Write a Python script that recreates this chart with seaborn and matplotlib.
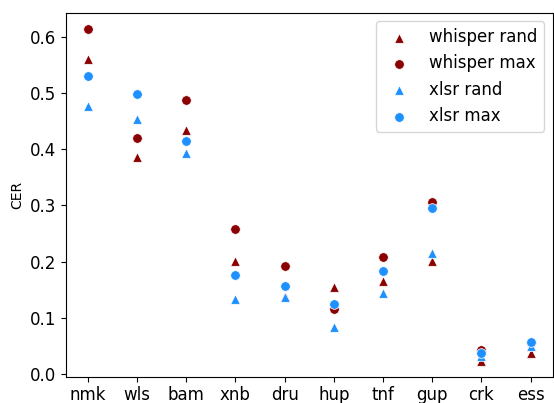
import matplotlib
matplotlib.use("Agg")
import matplotlib.pyplot as plt
import seaborn as sns
import pandas as pd

languages = ["nmk", "wls", "bam", "xnb", "dru", "hup", "tnf", "gup", "crk", "ess"]

whisper_rand = [0.561, 0.386, 0.434, 0.201, 0.139, 0.155, 0.165, 0.201, 0.024, 0.038]
whisper_max = [0.613, 0.420, 0.488, 0.259, 0.192, 0.116, 0.209, 0.306, 0.043, 0.055]
xlsr_rand = [0.477, 0.454, 0.393, 0.133, 0.137, 0.083, 0.144, 0.216, 0.033, 0.050]
xlsr_max = [0.531, 0.498, 0.414, 0.176, 0.157, 0.124, 0.183, 0.295, 0.038, 0.058]

series = [
    ("whisper rand", whisper_rand, "^", "darkred"),
    ("whisper max", whisper_max, "o", "darkred"),
    ("xlsr rand", xlsr_rand, "^", "dodgerblue"),
    ("xlsr max", xlsr_max, "o", "dodgerblue"),
]

fig = plt.figure(figsize=(5.54, 4.03), dpi=100)
ax = fig.add_axes([0.1186, 0.064, 0.879, 0.904])

for name, vals, marker, color in series:
    df = pd.DataFrame({"lang": languages, "CER": vals})
    sns.scatterplot(data=df, x="lang", y="CER", marker=marker, color=color,
                    s=48, label=name, ax=ax)

ax.set_xlabel("")
ax.set_ylabel("CER", fontsize=10)
ax.tick_params(axis="both", labelsize=12)
ax.tick_params(axis="x", pad=3)
ax.legend(loc="upper right", fontsize=12)

plt.savefig("out.png", dpi=100)
plt.close()
